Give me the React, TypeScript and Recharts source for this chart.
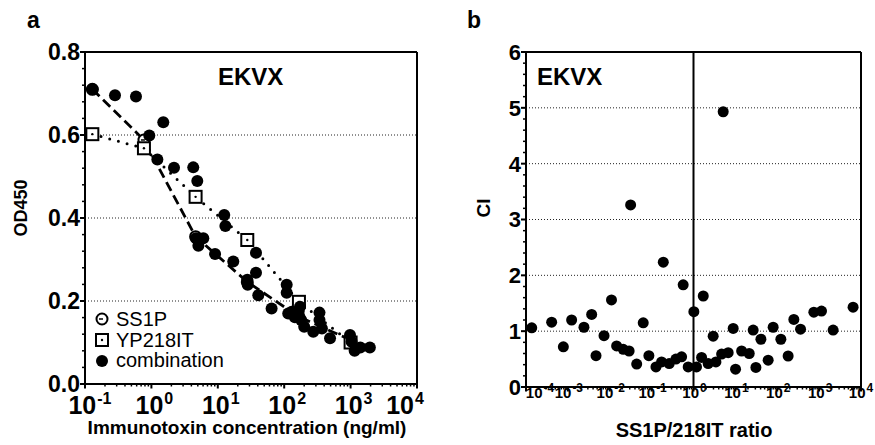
import React from 'react';
import { ScatterChart, Scatter, XAxis, YAxis, ReferenceLine } from 'recharts';

// panel a: single agents (same dilution series)
const concentrations = [0.129, 0.772, 4.63, 27.8, 166.7, 1000];
const ss1pOD = [0.71, 0.588, 0.355, 0.246, 0.162, 0.106];
const yp218OD = [0.602, 0.568, 0.451, 0.347, 0.198, 0.1];

// panel a: combination wells
const comboConc = [
  0.13, 0.283, 0.586, 1.51, 0.93, 1.23, 2.19, 4.27, 4.91, 12.5, 13.0, 4.7, 6.05, 5.1, 9.1,
  17.1, 37.6, 37.6, 27.8, 28.2, 40.7, 64.6, 109, 109, 115, 130, 145, 165, 173, 180, 200,
  274, 340, 340, 370, 490, 980, 1035, 1150, 1400, 1950,
];
const comboOD = [
  0.71, 0.696, 0.693, 0.631, 0.599, 0.541, 0.521, 0.522, 0.489, 0.407, 0.381, 0.351, 0.351,
  0.333, 0.313, 0.295, 0.316, 0.268, 0.251, 0.239, 0.214, 0.182, 0.239, 0.22, 0.17, 0.174,
  0.161, 0.175, 0.186, 0.154, 0.138, 0.126, 0.172, 0.154, 0.134, 0.11, 0.118, 0.102, 0.08,
  0.088, 0.088,
];

// panel b: combination index vs ratio
const ratio = [
  1.37e-4, 4.1e-4, 7.8e-4, 1.23e-3, 2.42e-3, 3.7e-3, 4.7e-3, 7.3e-3, 0.011, 0.0146, 0.021,
  0.029, 0.0315, 0.044, 0.063, 0.086, 0.127, 0.173, 0.19, 0.263, 0.38, 0.52, 0.567, 0.746,
  1.02, 1.18, 1.56, 1.71, 2.24, 2.95, 3.43, 4.69, 5.12, 6.73, 8.87, 10.1, 14.1, 21.4, 26.6,
  30.9, 40.7, 60.7, 79.8, 122, 182, 249, 360, 748, 1140, 2160, 6470,
];
const ci = [
  1.06, 1.16, 0.72, 1.2, 1.07, 1.3, 0.56, 0.92, 1.56, 0.735, 0.675, 0.645, 3.26, 0.41, 1.15,
  0.56, 0.36, 0.45, 2.235, 0.42, 0.5, 0.54, 1.83, 0.36, 1.35, 0.36, 0.53, 1.63, 0.42, 0.91,
  0.45, 0.59, 4.93, 0.615, 1.05, 0.32, 0.645, 0.6, 1.02, 0.35, 0.855, 0.48, 1.07, 0.855,
  0.555, 1.21, 1.035, 1.34, 1.36, 1.02, 1.43,
];

const odTicks = [0, 0.2, 0.4, 0.6, 0.8];
const odGrid = [0.2, 0.4, 0.6];
const ciTicks = [0, 1, 2, 3, 4, 5, 6];
const ciGrid = [1, 2, 3, 4, 5];

const FONT = '"Liberation Sans", Arial, sans-serif';

const zip = (xs: number[], ys: number[]) => xs.map((x, i) => ({ x, y: ys[i] }));

// major + minor ticks for a log axis
const logTicks = (from: number, to: number) => {
  const out: number[] = [];
  for (let e = from; e < to; e++) {
    for (let m = 1; m < 10; m++) out.push(m * Math.pow(10, e));
  }
  out.push(Math.pow(10, to));
  return out;
};

const linTicks = (max: number, step: number) => {
  const out: number[] = [];
  for (let i = 0; i * step <= max + 1e-9; i++) out.push(+(i * step).toFixed(4));
  return out;
};

const isMajorLog = (v: number) => Math.abs(Math.log10(v) - Math.round(Math.log10(v))) < 1e-6;

function LogTick(props: any) {
  const { x, y, payload, fontSize, supSize, base, shiftFirst, shiftLast, first, last } = props;
  const v = payload.value;
  if (!isMajorLog(v)) {
    return <line x1={x} x2={x} y1={y} y2={y + 2.5} stroke="#000" strokeWidth={1.5} />;
  }
  const e = Math.round(Math.log10(v));
  let dx = props.dx0 || 0;
  if (e === first) dx = shiftFirst;
  if (e === last) dx = shiftLast;
  return (
    <g>
      <line x1={x} x2={x} y1={y} y2={y + 4.5} stroke="#000" strokeWidth={2} />
      <text
        x={x + dx}
        y={y + base}
        textAnchor="middle"
        fontFamily={FONT}
        fontWeight="bold"
        fontSize={fontSize}
        fill="#000"
      >
        10
        <tspan fontSize={supSize} dx={1} dy={-fontSize * 0.42}>
          {e < 0 ? '-' + Math.abs(e) : String(e)}
        </tspan>
      </text>
    </g>
  );
}

function LinTick(props: any) {
  const { x, y, payload, majors, fontSize, fmt } = props;
  const v = payload.value;
  const major = majors.some((m: number) => Math.abs(m - v) < 1e-6);
  if (!major) {
    return <line x1={x - 3} x2={x} y1={y} y2={y} stroke="#000" strokeWidth={1.5} />;
  }
  return (
    <g>
      <line x1={x - 5} x2={x} y1={y} y2={y} stroke="#000" strokeWidth={2} />
      <text
        x={x - 5}
        y={y}
        dy="0.36em"
        textAnchor="end"
        fontFamily={FONT}
        fontWeight="bold"
        fontSize={fontSize}
        fill="#000"
      >
        {fmt(v)}
      </text>
    </g>
  );
}

const dot = (r: number) => (p: any) => <circle cx={p.cx} cy={p.cy} r={r} fill="#000" />;

const ss1pShape = (p: any) => (
  <g>
    <circle cx={p.cx} cy={p.cy} r={5.5} fill="#fff" stroke="#000" strokeWidth={2} />
    <line x1={p.cx - 3} x2={p.cx + 1} y1={p.cy} y2={p.cy} stroke="#000" strokeWidth={1.5} />
  </g>
);

const ypShape = (p: any) => (
  <g>
    <rect x={p.cx - 6} y={p.cy - 6} width={12} height={12} fill="#fff" stroke="#000" strokeWidth={2} />
    <circle cx={p.cx} cy={p.cy} r={1.2} fill="#000" />
  </g>
);

function PanelA() {
  return (
    <ScatterChart width={440} height={445} margin={{ top: 52, right: 23, bottom: 0, left: 0 }}>
      <XAxis
        type="number"
        dataKey="x"
        scale="log"
        domain={[0.1, 10000]}
        ticks={logTicks(-1, 4)}
        interval={0}
        allowDataOverflow
        height={61}
        tickSize={0}
        tickMargin={0}
        axisLine={{ stroke: '#000', strokeWidth: 2 }}
        tick={(p: any) => (
          <LogTick {...p} fontSize={25} supSize={16} base={30} dx0={3} first={-1} last={4} shiftFirst={5} shiftLast={-12} />
        )}
      />
      <YAxis
        type="number"
        dataKey="y"
        domain={[0, 0.8]}
        ticks={linTicks(0.8, 0.04)}
        interval={0}
        allowDataOverflow
        width={85}
        tickSize={0}
        tickMargin={0}
        axisLine={{ stroke: '#000', strokeWidth: 2 }}
        tick={(p: any) => <LinTick {...p} majors={odTicks} fontSize={23} fmt={(v: number) => v.toFixed(1)} />}
      />
      {odGrid.map((g) => (
        <ReferenceLine key={g} y={g} stroke="#222" strokeWidth={1} strokeDasharray="1 2" />
      ))}
      <ReferenceLine y={0.8} stroke="#000" strokeWidth={2} />
      <ReferenceLine x={10000} stroke="#000" strokeWidth={2} />
      <Scatter
        data={zip(concentrations, ss1pOD)}
        isAnimationActive={false}
        shape={ss1pShape}
        line={{ stroke: '#000', strokeWidth: 2.8, strokeDasharray: '10 5' }}
        lineType="joint"
      />
      <Scatter
        data={zip(concentrations, yp218OD)}
        isAnimationActive={false}
        shape={ypShape}
        line={{ stroke: '#000', strokeWidth: 3, strokeDasharray: '0 9', strokeLinecap: 'round' }}
        lineType="joint"
      />
      <Scatter data={zip(comboConc, comboOD)} isAnimationActive={false} shape={dot(6)} />
    </ScatterChart>
  );
}

function PanelB() {
  return (
    <ScatterChart width={435} height={445} margin={{ top: 52, right: 14, bottom: 0, left: 0 }}>
      <XAxis
        type="number"
        dataKey="x"
        scale="log"
        domain={[0.0001, 10000]}
        ticks={logTicks(-4, 4)}
        interval={0}
        allowDataOverflow
        height={58}
        tickSize={0}
        tickMargin={0}
        axisLine={{ stroke: '#000', strokeWidth: 2 }}
        tick={(p: any) => (
          <LogTick {...p} fontSize={15} supSize={12} base={11} dx0={1} first={-4} last={4} shiftFirst={14} shiftLast={0} />
        )}
      />
      <YAxis
        type="number"
        dataKey="y"
        domain={[0, 6]}
        ticks={linTicks(6, 0.2)}
        interval={0}
        allowDataOverflow
        width={86}
        tickSize={0}
        tickMargin={0}
        axisLine={{ stroke: '#000', strokeWidth: 2 }}
        tick={(p: any) => <LinTick {...p} majors={ciTicks} fontSize={22} fmt={(v: number) => String(v)} />}
      />
      {ciGrid.map((g) => (
        <ReferenceLine key={g} y={g} stroke="#222" strokeWidth={1} strokeDasharray="1 2" />
      ))}
      <ReferenceLine y={6} stroke="#000" strokeWidth={2} />
      <ReferenceLine x={10000} stroke="#000" strokeWidth={2} />
      <ReferenceLine x={1} stroke="#000" strokeWidth={2} />
      <Scatter data={zip(ratio, ci)} isAnimationActive={false} shape={dot(5.5)} />
    </ScatterChart>
  );
}

function Labels() {
  const bold = { fontFamily: FONT, fontWeight: 'bold' as const, fill: '#000' };
  const reg = { fontFamily: FONT, fill: '#000' };
  return (
    <svg width={875} height={445} style={{ position: 'absolute', left: 0, top: 0, pointerEvents: 'none' }}>
      <text x={27} y={28} fontSize={23} {...bold}>a</text>
      <text x={467} y={28} fontSize={23} {...bold}>b</text>
      <text x={218} y={85} fontSize={24} {...bold}>EKVX</text>
      <text x={537} y={85} fontSize={24} {...bold}>EKVX</text>
      <text x={247} y={434} fontSize={19} textAnchor="middle" {...bold}>
        Immunotoxin concentration (ng/ml)
      </text>
      <text x={694} y={437} fontSize={20} textAnchor="middle" {...bold}>
        SS1P/218IT ratio
      </text>
      <text transform="translate(27,208) rotate(-90)" fontSize={18} textAnchor="middle" {...bold}>
        OD450
      </text>
      <text transform="translate(490,208) rotate(-90)" fontSize={19} textAnchor="middle" {...bold}>
        CI
      </text>
      {/* legend */}
      <g>
        {ss1pShape({ cx: 102, cy: 319 })}
        {ypShape({ cx: 102, cy: 340 })}
        {dot(6)({ cx: 102, cy: 361 })}
        <text x={116} y={326} fontSize={20} {...reg}>SS1P</text>
        <text x={116} y={347} fontSize={20} {...reg}>YP218IT</text>
        <text x={116} y={367} fontSize={20} {...reg}>combination</text>
      </g>
    </svg>
  );
}

export default function App() {
  return (
    <div style={{ position: 'absolute', left: 0, top: 0, width: 875, height: 445, background: '#fff' }}>
      <div style={{ position: 'absolute', left: 0, top: 0 }}>
        <PanelA />
      </div>
      <div style={{ position: 'absolute', left: 440, top: 0 }}>
        <PanelB />
      </div>
      <Labels />
    </div>
  );
}
